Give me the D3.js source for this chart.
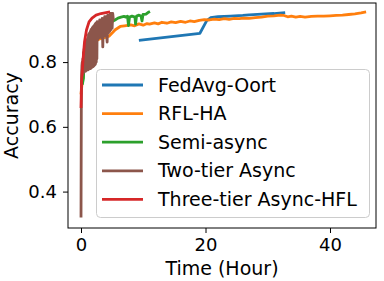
<!DOCTYPE html>
<html><head><meta charset="utf-8">
<script src="https://cdn.jsdelivr.net/npm/d3@7"></script>
<style>
body{margin:0;background:#fff;}
svg{display:block;font-family:"DejaVu Sans",sans-serif;}
</style></head>
<body>
<svg id="c" width="384" height="281"></svg>
<script>
// ---- data ----
const seriesNames = ["FedAvg-Oort","RFL-HA","Semi-async","Two-tier Async","Three-tier Async-HFL"];
const seriesColors = ["#1f77b4","#ff7f0e","#2ca02c","#8c564b","#d62728"];

const blueTime = [9.3, 19.1, 20.2, 20.8, 22, 24, 26, 27, 29, 31, 32.8];
const blueAcc  = [0.867, 0.889, 0.928, 0.937, 0.940, 0.942, 0.944, 0.946, 0.948, 0.950, 0.953];

const orangeTime = [0, 0.5, 1, 2, 3, 3.5, 4.5, 5.5, 6.3, 7, 8, 8.6, 9.3, 10, 10.6, 11, 11.8, 12.4, 13, 13.8, 14.5, 15.2, 16, 16.8, 17.5, 18.2, 19, 19.8, 20.6, 21.4, 22.2, 23, 23.8, 24.6, 25.4, 26.2, 27, 28, 29, 30, 31, 32, 32.6, 33.2, 33.8, 34.5, 35.2, 36, 37, 38, 39, 40, 41, 42, 43, 44, 45, 45.8];
const orangeAcc  = [0.70, 0.80, 0.84, 0.86, 0.872, 0.874, 0.88, 0.90, 0.91, 0.912, 0.915, 0.912, 0.918, 0.914, 0.919, 0.917, 0.921, 0.918, 0.923, 0.920, 0.924, 0.922, 0.926, 0.923, 0.927, 0.925, 0.929, 0.931, 0.930, 0.933, 0.931, 0.934, 0.932, 0.935, 0.934, 0.936, 0.935, 0.937, 0.939, 0.942, 0.943, 0.945, 0.944, 0.940, 0.942, 0.939, 0.941, 0.939, 0.941, 0.942, 0.942, 0.943, 0.944, 0.945, 0.947, 0.949, 0.952, 0.955];

const greenTime = [0.2, 0.4, 0.5, 1, 2, 3, 4, 5, 5.46, 5.94, 6.43, 6.9, 7.2, 7.47, 7.63, 7.79, 8.19, 8.67, 8.76, 8.92, 9.32, 9.64, 9.8, 9.96, 10.44, 10.76, 11.08];
const greenAcc  = [0.73, 0.75, 0.82, 0.86, 0.89, 0.91, 0.92, 0.925, 0.930, 0.936, 0.939, 0.941, 0.939, 0.942, 0.913, 0.939, 0.942, 0.939, 0.917, 0.942, 0.945, 0.942, 0.927, 0.947, 0.948, 0.953, 0.956];

const brownTime = [0, 0.05, 0.1, 0.15, 0.2, 0.25, 0.3, 0.35, 0.4, 0.45, 0.5, 0.55, 0.6, 0.65, 0.7, 0.75, 0.8, 0.85, 0.9, 0.95, 1.0, 1.05, 1.1, 1.15, 1.2, 1.25, 1.3, 1.35, 1.4, 1.45, 1.5, 1.55, 1.6, 1.65, 1.7, 1.75, 1.8, 1.85, 1.9, 1.95, 2.0, 2.05, 2.1, 2.15, 2.2, 2.25, 2.3, 2.35, 2.4, 2.45, 2.5, 2.55, 2.6, 2.7, 2.8, 2.9, 3.0, 3.1, 3.2, 3.3, 3.4, 3.5, 3.6, 3.7, 3.8, 3.9, 4.0, 4.1, 4.2, 4.3, 4.4, 4.5, 4.6, 4.7, 4.8, 4.9, 5.0, 5.1, 5.2];
const brownAcc  = [0.32, 0.66, 0.76, 0.79, 0.80, 0.76, 0.81, 0.765, 0.83, 0.77, 0.84, 0.77, 0.85, 0.772, 0.855, 0.772, 0.86, 0.775, 0.865, 0.775, 0.87, 0.776, 0.875, 0.776, 0.885, 0.778, 0.888, 0.78, 0.89, 0.78, 0.895, 0.78, 0.90, 0.782, 0.902, 0.784, 0.905, 0.785, 0.908, 0.786, 0.91, 0.788, 0.912, 0.79, 0.915, 0.792, 0.918, 0.795, 0.92, 0.80, 0.922, 0.81, 0.925, 0.87, 0.925, 0.875, 0.93, 0.88, 0.93, 0.875, 0.935, 0.847, 0.935, 0.88, 0.94, 0.885, 0.94, 0.885, 0.862, 0.945, 0.89, 0.945, 0.895, 0.95, 0.90, 0.95, 0.905, 0.95, 0.93];

const redTime = [0, 0.08, 0.32, 0.56, 0.88, 1.29, 1.77, 2.41, 3.21, 4.02, 4.66];
const redAcc  = [0.658, 0.738, 0.806, 0.862, 0.899, 0.924, 0.936, 0.945, 0.950, 0.953, 0.955];

const xTicks = [0, 20, 40];
const yTicks = [0.4, 0.6, 0.8];
const xLabel = "Time (Hour)";
const yLabel = "Accuracy";

// ---- chart ----
const svg = d3.select("#c");
const L = 68, R = 376, T = 3, B = 228;
const x = d3.scaleLinear().domain([-2.09, 47.39]).range([L, R]);
const y = d3.scaleLinear().domain([0.2875, 0.9825]).range([B, T]);

const seriesData = [
  d3.zip(blueTime, blueAcc),
  d3.zip(orangeTime, orangeAcc),
  d3.zip(greenTime, greenAcc),
  d3.zip(brownTime, brownAcc),
  d3.zip(redTime, redAcc)
];

const line = d3.line().x(d => x(d[0])).y(d => y(d[1]));
const g = svg.append("g");
seriesData.forEach((s, i) => {
  g.append("path").datum(s).attr("d", line)
    .attr("fill", "none").attr("stroke", seriesColors[i])
    .attr("stroke-width", 2.8).attr("stroke-linejoin", "round").attr("stroke-linecap", "butt");
});

// frame
svg.append("rect").attr("x", L).attr("y", T).attr("width", R - L).attr("height", B - T)
  .attr("fill", "none").attr("stroke", "#000").attr("stroke-width", 1);

// axes
const xa = svg.append("g").attr("transform", `translate(0,${B})`)
  .call(d3.axisBottom(x).tickValues(xTicks).tickSize(5).tickPadding(5).tickFormat(d3.format("d")));
const ya = svg.append("g").attr("transform", `translate(${L},0)`)
  .call(d3.axisLeft(y).tickValues(yTicks).tickSize(5).tickPadding(6).tickFormat(d3.format(".1f")));
[xa, ya].forEach(a => {
  a.select(".domain").remove();
  a.selectAll("text").attr("font-size", 18).attr("fill", "#000").attr("font-family", "DejaVu Sans");
  a.selectAll("line").attr("stroke", "#000");
});

svg.append("text").attr("x", (L + R) / 2).attr("y", 275).attr("text-anchor", "middle")
  .attr("font-size", 19).text(xLabel);
svg.append("text").attr("transform", `translate(18,${(T + B) / 2}) rotate(-90)`)
  .attr("text-anchor", "middle").attr("font-size", 19).text(yLabel);

// legend
const lg = svg.append("g");
lg.append("rect").attr("x", 96.5).attr("y", 69.5).attr("width", 273).attr("height", 148).attr("rx", 4)
  .attr("fill", "#fff").attr("fill-opacity", 0.8).attr("stroke", "#cccccc").attr("stroke-width", 1);
seriesNames.forEach((n, i) => {
  const yy = 85 + i * 28.6;
  lg.append("line").attr("x1", 102).attr("x2", 143).attr("y1", yy).attr("y2", yy)
    .attr("stroke", seriesColors[i]).attr("stroke-width", 2.8);
  lg.append("text").attr("x", 158).attr("y", yy).attr("dy", "0.35em")
    .attr("font-size", 19).text(n);
});
</script>
</body></html>
